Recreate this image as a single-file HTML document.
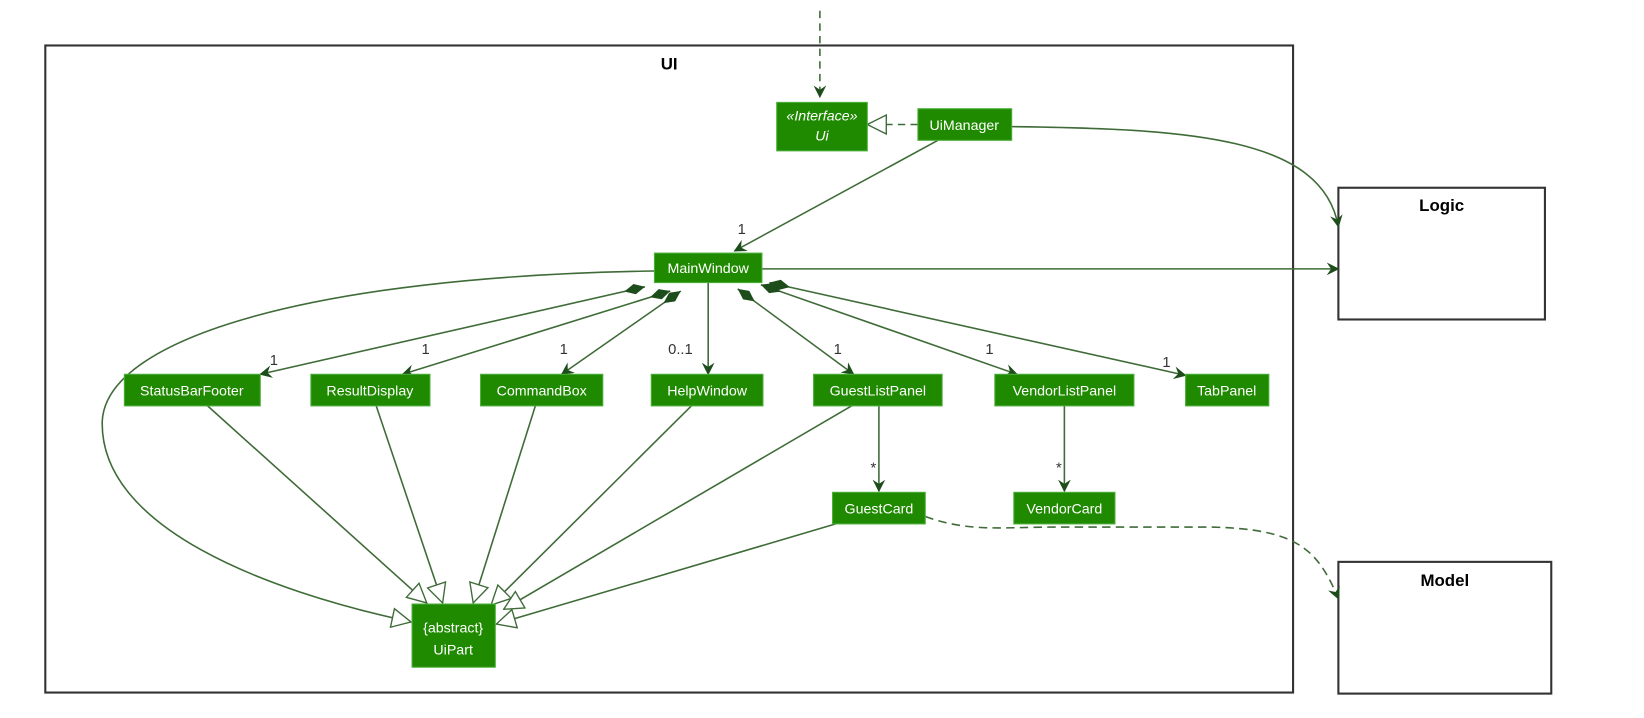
<!DOCTYPE html>
<html><head><meta charset="utf-8"><style>
html,body{margin:0;padding:0;background:#fff;width:1644px;height:718px;overflow:hidden}
text{font-family:"Liberation Sans",sans-serif}
.n{fill:#1f8a00;stroke:#4caf3a;stroke-width:1}
.t{fill:#fff;font-size:13.5px;text-anchor:middle}
.l{stroke:#3f6b38;stroke-width:1.5;fill:none}
.m{fill:#333;font-size:14px}
</style></head><body>
<svg width="1644" height="718" viewBox="0 0 1560 681" xmlns="http://www.w3.org/2000/svg">
<defs>
<marker id="a" viewBox="0 0 12 12" refX="11" refY="6" markerWidth="12" markerHeight="12" markerUnits="userSpaceOnUse" orient="auto"><path d="M0,0 L12,6 L0,12 L4,6 Z" fill="#1d4d1a"/></marker>
<marker id="g" viewBox="0 0 20 20" refX="19" refY="10" markerWidth="20" markerHeight="20" markerUnits="userSpaceOnUse" orient="auto"><path d="M1,1 L19,10 L1,19 Z" fill="#fff" stroke="#3f6b38" stroke-width="1.3"/></marker>
<marker id="d" viewBox="0 0 22 12" refX="1" refY="6" markerWidth="22" markerHeight="12" markerUnits="userSpaceOnUse" orient="auto"><path d="M1,6 L11,1 L21,6 L11,11 Z" fill="#1d4d1a"/></marker>
</defs>
<rect x="43" y="43" width="1184" height="614" fill="none" stroke="#333" stroke-width="2"/>
<text x="635" y="66" font-size="16" font-weight="bold" text-anchor="middle">UI</text>
<rect x="1270" y="178" width="196" height="125" fill="none" stroke="#333" stroke-width="2"/>
<text x="1368" y="200" font-size="16" font-weight="bold" text-anchor="middle">Logic</text>
<rect x="1270" y="533" width="202" height="125" fill="none" stroke="#333" stroke-width="2"/>
<text x="1371" y="556" font-size="16" font-weight="bold" text-anchor="middle">Model</text>

<path class="l" d="M778,10 L778,92" stroke-dasharray="7,5" marker-end="url(#a)"/>
<path class="l" d="M871,118 L823,118" stroke-dasharray="7,5" marker-end="url(#g)"/>
<path class="l" d="M960,120 C1130,122 1255,130 1270,215" marker-end="url(#a)"/>
<path class="l" d="M890,133 L697,238" marker-end="url(#a)"/>
<text class="m" x="700" y="222">1</text>
<path class="l" d="M723,255 L1270,255" marker-end="url(#a)"/>

<path class="l" d="M612,272 L247,355" marker-start="url(#d)" marker-end="url(#a)"/>
<text class="m" x="256" y="346">1</text>
<path class="l" d="M636,276 L382,355" marker-start="url(#d)" marker-end="url(#a)"/>
<text class="m" x="400" y="336">1</text>
<path class="l" d="M646,276 L533,355" marker-start="url(#d)" marker-end="url(#a)"/>
<text class="m" x="531" y="336">1</text>
<path class="l" d="M672,268 L672,355" marker-end="url(#a)"/>
<text class="m" x="634" y="336">0..1</text>
<path class="l" d="M700,274 L810,355" marker-start="url(#d)" marker-end="url(#a)"/>
<text class="m" x="791" y="336">1</text>
<path class="l" d="M722,270 L965,355" marker-start="url(#d)" marker-end="url(#a)"/>
<text class="m" x="935" y="336">1</text>
<path class="l" d="M730,268 L1125,356" marker-start="url(#d)" marker-end="url(#a)"/>
<text class="m" x="1103" y="348">1</text>

<path class="l" d="M621,257 C300,262 100,320 97,400 C95,500 250,560 390,590" marker-end="url(#g)"/>
<path class="l" d="M197,385 L405,572" marker-end="url(#g)"/>
<path class="l" d="M357,385 L420,572" marker-end="url(#g)"/>
<path class="l" d="M508,385 L449,572" marker-end="url(#g)"/>
<path class="l" d="M656,385 L466,574" marker-end="url(#g)"/>
<path class="l" d="M808,385 L478,578" marker-end="url(#g)"/>
<path class="l" d="M793,497 L471,592" marker-end="url(#g)"/>

<path class="l" d="M834,385 L834,466" marker-end="url(#a)"/>
<text class="m" x="826" y="448">*</text>
<path class="l" d="M1010,385 L1010,466" marker-end="url(#a)"/>
<text class="m" x="1002" y="448">*</text>
<path class="l" d="M878,490 C920,505 950,500 1000,500 L1150,500 C1230,502 1250,520 1270,568" stroke-dasharray="8,5" marker-end="url(#a)"/>

<rect class="n" x="737" y="97" width="86" height="46"/>
<text class="t" x="780" y="114" font-style="italic">«Interface»</text>
<text class="t" x="780" y="133" font-style="italic">Ui</text>
<rect class="n" x="871" y="103" width="89" height="30"/><text class="t" x="915" y="123">UiManager</text>
<rect class="n" x="621" y="240" width="102" height="28"/><text class="t" x="672" y="259">MainWindow</text>
<rect class="n" x="118" y="355" width="129" height="30"/><text class="t" x="182" y="375">StatusBarFooter</text>
<rect class="n" x="295" y="355" width="113" height="30"/><text class="t" x="351" y="375">ResultDisplay</text>
<rect class="n" x="456" y="355" width="116" height="30"/><text class="t" x="514" y="375">CommandBox</text>
<rect class="n" x="618" y="355" width="106" height="30"/><text class="t" x="671" y="375">HelpWindow</text>
<rect class="n" x="772" y="355" width="122" height="30"/><text class="t" x="833" y="375">GuestListPanel</text>
<rect class="n" x="944" y="355" width="132" height="30"/><text class="t" x="1010" y="375">VendorListPanel</text>
<rect class="n" x="1125" y="355" width="79" height="30"/><text class="t" x="1164" y="375">TabPanel</text>
<rect class="n" x="790" y="467" width="88" height="30"/><text class="t" x="834" y="487">GuestCard</text>
<rect class="n" x="962" y="467" width="96" height="30"/><text class="t" x="1010" y="487">VendorCard</text>
<rect class="n" x="391" y="573" width="79" height="60"/>
<text class="t" x="430" y="600">{abstract}</text>
<text class="t" x="430" y="621">UiPart</text>
</svg>
</body></html>
